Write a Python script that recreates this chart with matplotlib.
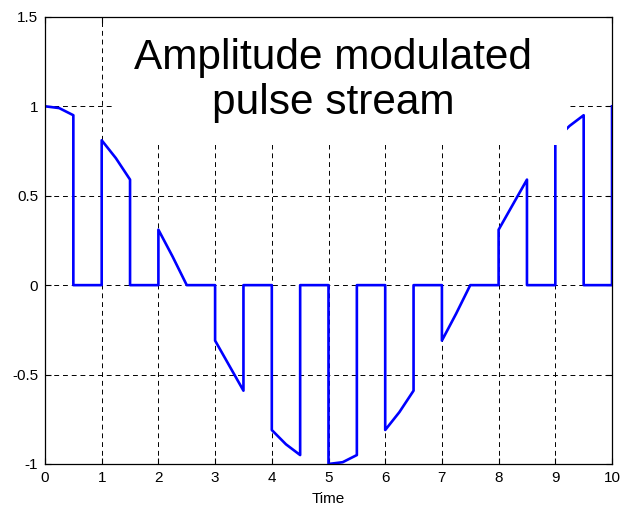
import matplotlib.pyplot as plt
from matplotlib.patches import Rectangle

# Pulse stream (time, amplitude)
pulse_t = [0, 0.25, 0.5, 0.5, 1, 1, 1.25, 1.5, 1.5, 2, 2, 2.25, 2.5,
           3, 3, 3.25, 3.5, 3.5, 4, 4, 4.25, 4.5, 4.5, 5, 5, 5.25, 5.5, 5.5,
           6, 6, 6.25, 6.5, 6.5, 7, 7, 7.25, 7.5, 8, 8, 8.25, 8.5, 8.5,
           9, 9, 9.25, 9.5, 9.5, 10, 10]
pulse_amp = [1, 0.99, 0.95, 0, 0, 0.81, 0.71, 0.59, 0, 0, 0.31, 0.16, 0,
             0, -0.31, -0.45, -0.59, 0, 0, -0.81, -0.89, -0.95, 0, 0, -1, -0.99, -0.95, 0,
             0, -0.81, -0.71, -0.59, 0, 0, -0.31, -0.16, 0, 0, 0.31, 0.45, 0.59, 0,
             0, 0.81, 0.89, 0.95, 0, 0, 1]

x_ticks = list(range(0, 11))
y_ticks = [-1, -0.5, 0, 0.5, 1, 1.5]
y_tick_labels = ['-1', '-0.5', '0', '0.5', '1', '1.5']

plt.rcParams['font.family'] = ['Liberation Sans', 'DejaVu Sans']

fig = plt.figure(figsize=(6.24, 5.11), dpi=100)
ax = fig.add_axes([0.0721, 0.092, 0.9087, 0.875])

ax.plot(pulse_t, pulse_amp, color='#0000ff', lw=1.9, zorder=2)

ax.set_xlim(0, 10)
ax.set_ylim(-1, 1.5)
ax.set_xticks(x_ticks)
ax.set_yticks(y_ticks)
ax.set_yticklabels(y_tick_labels)
ax.tick_params(direction='in', length=4, labelsize=11, width=0.8, pad=5,
               top=True, right=True)
ax.set_xlabel('Time', fontsize=11, labelpad=5)

## MATLAB-like dashed grid
ax.grid(True, color='black', linestyle=(0, (5, 4)), linewidth=0.7)
for sp in ax.spines.values():
    sp.set_linewidth(0.9)

## Annotation: white text extent hides the grid and trace behind it
ax.add_patch(Rectangle((1.23, 0.786), 7.98, 0.714, facecolor='white',
                       edgecolor='none', zorder=2.2))
ax.text(5.08, 1.145, 'Amplitude modulated\npulse stream', fontsize=30.5,
        ha='center', va='center', linespacing=1.18, zorder=3)

fig.savefig('out.png', dpi=100)
